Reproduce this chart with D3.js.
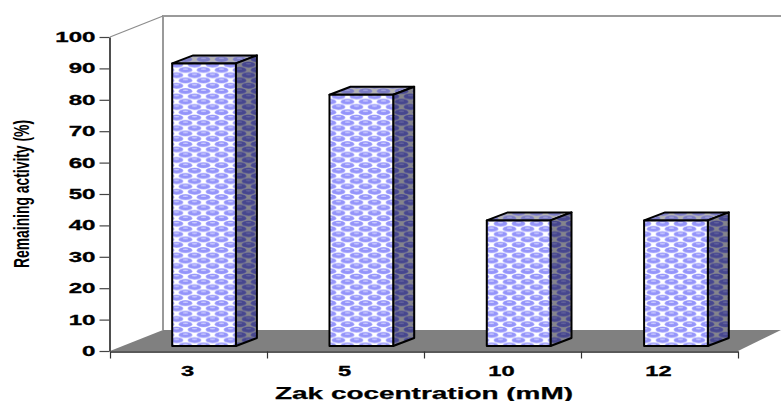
<!DOCTYPE html>
<html><head><meta charset="utf-8">
<script src="https://cdn.jsdelivr.net/npm/d3@7"></script>
<style>html,body{margin:0;padding:0;background:#fff}svg{display:block}text{font-family:"Liberation Sans",Arial,sans-serif;font-weight:bold;fill:#000}</style>
</head><body><div id="c"></div>
<script>
const categories = ["3","5","10","12"];
const values = [90,80,40,40];
const yTicks = [0,10,20,30,40,50,60,70,80,90,100];
const xTitle = "Zak cocentration (mM)";
const yTitle = "Remaining activity (%)";

const W=781,H=401;
const svg=d3.select("#c").append("svg").attr("width",W).attr("height",H);
const y=d3.scaleLinear().domain([0,100]).range([351,37]);
const x=d3.scaleBand().domain(categories).range([110,740]).paddingInner(0.595).paddingOuter(0.3);
const xEdges=d3.scaleLinear().domain([0,4]).range([110,738]);
const depth={dx:53,dy:-21}, barD={dx:21,dy:-8}, barOff={dx:15,dy:-5};

const defs=svg.append("defs");
function pat(id,bg,halo,oval,hi){
  const p=defs.append("pattern").attr("id",id).attr("patternUnits","userSpaceOnUse")
    .attr("width",18).attr("height",10.6).attr("x",172).attr("y",62);
  p.append("rect").attr("width",18).attr("height",10.6).attr("fill",bg);
  [[4.5,2.6],[13.5,7.9]].forEach(([cx,cy])=>{
    [0,18,-18].forEach(ox=>{
      [0,10.6,-10.6].forEach(oy=>{
        p.append("ellipse").attr("cx",cx+ox).attr("cy",cy+oy).attr("rx",7).attr("ry",3).attr("fill",halo);
        p.append("ellipse").attr("cx",cx+ox).attr("cy",cy+oy).attr("rx",6.3).attr("ry",2.6).attr("fill",oval);
        p.append("ellipse").attr("cx",cx+ox).attr("cy",cy+oy-0.9).attr("rx",2.8).attr("ry",0.7).attr("fill",hi);
      });
    });
  });
}
pat("pf","#ffffff","#bcbcff","#9494fa","#d0d0ff");
pat("ps","#85858c","#5c5c98","#46468e","#64649c");
pat("pt","#b4b4b4","#9a9acc","#7c7cc4","#a0a0d8");

// walls and floor
const wall=svg.append("g");
wall.append("polygon").attr("fill","#808080")
  .attr("points",[[110,y(0)],[110+depth.dx,y(0)+depth.dy],[W,y(0)+depth.dy],[W,y(0)-21],[738,y(0)]].join(" "));
const gc="#9a9a9a";
wall.append("path").attr("fill","none").attr("stroke",gc).attr("stroke-width",2)
  .attr("d",`M${110+depth.dx},${y(0)+depth.dy}V${y(100)+depth.dy}H${W}`);
wall.append("line").attr("stroke","#8c8c8c").attr("stroke-width",1.2)
  .attr("x1",110).attr("y1",y(100)).attr("x2",110+depth.dx).attr("y2",y(100)+depth.dy);

// axes
const yAxis=d3.axisLeft(y).tickValues(yTicks).tickSize(10).tickPadding(4).tickSizeOuter(0);
const ga=svg.append("g").attr("transform","translate(109.5,0)").call(yAxis);
ga.select("path").attr("stroke","#222").attr("stroke-width",1.6);
ga.selectAll("line").attr("stroke","#444").attr("stroke-width",1.2);
ga.selectAll("text").style("font-size","14px").attr("lengthAdjust","spacingAndGlyphs")
  .attr("textLength",d=>String(d).length*13.4).attr("stroke","#000").attr("stroke-width",0.3);
const bottom=d3.axisBottom(xEdges).tickValues([0,1,2,3,4]).tickSize(7).tickFormat("").tickSizeOuter(0);
const gb=svg.append("g").attr("transform","translate(0,351.5)").call(bottom);
gb.selectAll("path").attr("stroke","#222").attr("stroke-width",1.4);
gb.selectAll("line").attr("stroke","#333").attr("stroke-width",1.2);
svg.append("g").selectAll("text").data(categories).join("text")
  .attr("x",(d,i)=>xEdges(i+0.5)-1).attr("y",376).attr("text-anchor","middle")
  .attr("lengthAdjust","spacingAndGlyphs").attr("textLength",d=>d.length*13.2)
  .attr("stroke","#000").attr("stroke-width",0.3)
  .style("font-size","14px").text(d=>d);

// bars
const bars=svg.append("g").selectAll("g").data(categories.map((c,i)=>({c,v:values[i]}))).join("g");
const fx=d=>x(d.c)+barOff.dx, fw=x.bandwidth(), base=y(0)+barOff.dy, ft=d=>y(d.v)+barOff.dy;
const st={stroke:"#000","stroke-width":2,"stroke-linejoin":"round"};
function apply(s){Object.entries(st).forEach(([k,v])=>s.attr(k,v));return s;}
apply(bars.append("polygon").attr("fill","url(#pt)")
  .attr("points",d=>[[fx(d),ft(d)],[fx(d)+barD.dx,ft(d)+barD.dy],[fx(d)+fw+barD.dx,ft(d)+barD.dy],[fx(d)+fw,ft(d)]].join(" ")));
apply(bars.append("polygon").attr("fill","url(#ps)")
  .attr("points",d=>[[fx(d)+fw,ft(d)],[fx(d)+fw+barD.dx,ft(d)+barD.dy],[fx(d)+fw+barD.dx,base+barD.dy],[fx(d)+fw,base]].join(" ")));
apply(bars.append("rect").attr("fill","url(#pf)")
  .attr("x",fx).attr("y",ft).attr("width",fw).attr("height",d=>base-ft(d)));

// titles
svg.append("text").attr("x",424).attr("y",398.5).attr("text-anchor","middle")
  .attr("stroke","#000").attr("stroke-width",0.25)
  .attr("textLength",298).attr("lengthAdjust","spacingAndGlyphs").style("font-size","16.5px").text(xTitle);
svg.append("text").attr("transform","translate(29,194) rotate(-90)").attr("text-anchor","middle")
  .attr("textLength",148).attr("lengthAdjust","spacingAndGlyphs").style("font-size","22px").text(yTitle);
</script></body></html>
